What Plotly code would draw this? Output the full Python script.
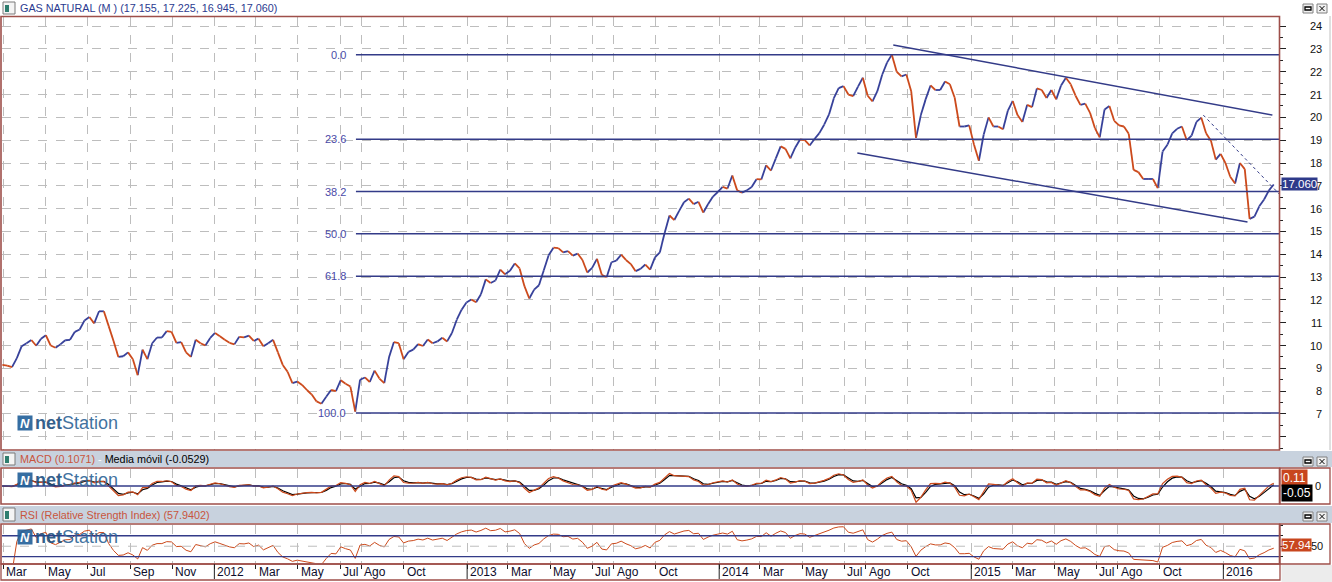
import numpy as np
import pandas as pd
import plotly.graph_objects as go

# ---------------- data ----------------
first_week = "2011-02-28"
close = [
    9.15, 9.12, 9.05, 9.45, 9.97, 10.10, 10.24, 9.99, 10.30, 10.45,
    10.00, 9.90, 10.05, 10.23, 10.25, 10.60, 10.70, 11.10, 11.25, 10.97,
    11.50, 11.50, 10.85, 10.20, 9.50, 9.53, 9.70, 9.40, 8.70, 9.82,
    9.40, 10.10, 10.35, 10.35, 10.63, 10.60, 10.12, 10.15, 9.70, 9.50,
    10.25, 10.10, 10.00, 10.33, 10.55, 10.41, 10.25, 10.12, 10.05, 10.38,
    10.36, 10.43, 10.20, 10.30, 9.97, 10.10, 10.25, 9.70, 9.15, 8.85,
    8.35, 8.42, 8.27, 8.05, 7.85, 7.55, 7.45, 7.75, 8.05, 8.00,
    8.48, 8.32, 8.20, 7.10, 8.50, 8.60, 8.40, 8.90, 8.55, 8.35,
    9.50, 10.15, 10.10, 9.40, 9.72, 9.82, 10.06, 9.98, 10.26, 10.10,
    10.18, 10.34, 10.18, 10.55, 11.13, 11.57, 11.89, 12.02, 11.90, 12.25,
    12.90, 12.74, 12.85, 13.33, 13.12, 13.28, 13.60, 13.38, 12.60, 12.06,
    12.45, 12.64, 13.30, 13.96, 14.29, 14.27, 14.08, 14.14, 13.94, 14.03,
    13.75, 13.20, 13.40, 13.80, 13.10, 12.99, 13.65, 13.72, 13.98, 13.75,
    13.57, 13.26, 13.36, 13.55, 13.33, 13.86, 14.08, 14.93, 15.70, 15.50,
    15.90, 16.28, 16.44, 16.20, 16.30, 15.83, 16.20, 16.53, 16.73, 16.95,
    16.88, 17.45, 16.80, 16.70, 16.80, 16.95, 17.29, 17.28, 17.90, 17.67,
    18.20, 18.73, 18.62, 18.20, 18.67, 19.03, 19.00, 18.77, 19.05, 19.31,
    19.68, 20.13, 20.84, 21.28, 21.37, 21.00, 20.93, 21.35, 21.74, 20.95,
    20.70, 21.15, 21.87, 22.40, 22.75, 22.00, 21.80, 21.88, 21.15, 19.10,
    20.10, 20.80, 21.40, 21.20, 21.20, 21.57, 21.45, 20.86, 19.60, 19.60,
    19.65, 18.80, 18.10, 19.25, 20.00, 19.60, 19.60, 19.48, 20.30, 20.72,
    20.10, 19.80, 20.55, 20.45, 21.27, 21.20, 20.85, 21.20, 20.79, 21.40,
    21.74, 21.45, 20.95, 20.55, 20.60, 20.20, 19.53, 19.12, 20.35, 20.50,
    19.85, 19.65, 19.60, 19.28, 17.70, 17.60, 17.30, 17.30, 17.30, 16.90,
    18.50, 18.80, 19.30, 19.50, 19.60, 19.00, 19.20, 19.80, 19.99, 19.30,
    18.98, 18.15, 18.40, 18.00, 17.40, 17.10, 18.00, 17.73, 15.55, 15.65,
    16.10, 16.40, 16.80, 17.06,
]

month_ticks = [
    "2011-03-01", "2011-05-01", "2011-07-01", "2011-09-01", "2011-11-01",
    "2012-01-01", "2012-03-01", "2012-05-01", "2012-07-01", "2012-08-01", "2012-10-01",
    "2013-01-01", "2013-03-01", "2013-05-01", "2013-07-01", "2013-08-01", "2013-10-01",
    "2014-01-01", "2014-03-01", "2014-05-01", "2014-07-01", "2014-08-01", "2014-10-01",
    "2015-01-01", "2015-03-01", "2015-05-01", "2015-07-01", "2015-08-01", "2015-10-01",
    "2016-01-01",
]
month_labels = [
    "Mar", "May", "Jul", "Sep", "Nov",
    "2012", "Mar", "May", "Jul", "Ago", "Oct",
    "2013", "Mar", "May", "Jul", "Ago", "Oct",
    "2014", "Mar", "May", "Jul", "Ago", "Oct",
    "2015", "Mar", "May", "Jul", "Ago", "Oct",
    "2016",
]
year_ticks = ["2012-01-01", "2013-01-01", "2014-01-01", "2015-01-01", "2016-01-01"]
x_start, x_end = "2011-02-27 12:00", "2016-03-21 14:00"

price_ticks = list(range(6, 25))
price_labels = [""] + [str(v) for v in range(7, 25)]
price_range = [5.42, 24.40]

fib_start = "2012-07-24"
fib_low, fib_high = 7.04, 22.75
fib_levels = [0.0, 23.6, 38.2, 50.0, 61.8, 100.0]

upper_channel_x = ["2014-09-10", "2016-03-12"]
upper_channel_y = [23.17, 20.10]
lower_channel_x = ["2014-07-20", "2016-02-05"]
lower_channel_y = [18.44, 15.41]
short_trend_x = ["2015-12-03", "2016-03-22"]
short_trend_y = [20.10, 16.64]

title_text = "GAS NATURAL (M ) (17.155, 17.225, 16.945, 17.060)"
last_price = "17.060"
macd_text, signal_text = "0.1071", "-0.0529"
macd_box, signal_box = "0.11", "-0.05"
rsi_text, rsi_box = "57.9402", "57.94"

# ---------------- styles ----------------
BLUE = "#37419a"
ORANGE = "#cc4a1c"
NAVY = "#333b88"
BROWN = "#9e4f4a"
GRID = "#bdbdbd"
HEADER = "#c8d2de"
FONT = "Liberation Sans, Arial, sans-serif"

W, H = 1332, 582
L, R, T, B = 2, 53, 17, 19
PW, PH = W - L - R, H - T - B


def px(x):
    return (x - L) / PW


def py(y):
    return (H - B - y) / PH


dates = pd.date_range(first_week, periods=len(close), freq="7D")
s = pd.Series(close, index=dates)


# indicators (daily parameters translated to weekly samples)
def wk_alpha(n):
    return 1 - (1 - 2 / (n + 1)) ** 5


macd = s.ewm(alpha=wk_alpha(12), adjust=False).mean() - s.ewm(alpha=wk_alpha(26), adjust=False).mean()
signal = macd.ewm(alpha=wk_alpha(9), adjust=False).mean()
delta = s.diff()
a_rsi = 1 / 9
gain = delta.clip(lower=0).ewm(alpha=a_rsi, adjust=False).mean()
loss = (-delta.clip(upper=0)).ewm(alpha=a_rsi, adjust=False).mean()
rsi = 100 - 100 / (1 + gain / loss)

# price path split into rising / falling pieces
up_x, up_y, dn_x, dn_y = [], [], [], []
for i in range(1, len(close)):
    if close[i] >= close[i - 1]:
        tx, ty = up_x, up_y
    else:
        tx, ty = dn_x, dn_y
    tx += [dates[i - 1], dates[i], None]
    ty += [close[i - 1], close[i], None]

fig = go.Figure()
fig.add_trace(go.Scatter(x=up_x, y=up_y, mode="lines", line=dict(color=BLUE, width=1.8),
                         xaxis="x", yaxis="y", hoverinfo="skip"))
fig.add_trace(go.Scatter(x=dn_x, y=dn_y, mode="lines", line=dict(color=ORANGE, width=1.8),
                         xaxis="x", yaxis="y", hoverinfo="skip"))
fig.add_trace(go.Scatter(x=dates, y=signal, mode="lines", line=dict(color="black", width=1.2),
                         xaxis="x2", yaxis="y2", hoverinfo="skip"))
fig.add_trace(go.Scatter(x=dates, y=macd, mode="lines", line=dict(color=ORANGE, width=1.2),
                         xaxis="x2", yaxis="y2", hoverinfo="skip"))
fig.add_trace(go.Scatter(x=dates, y=rsi, mode="lines", line=dict(color=ORANGE, width=1),
                         xaxis="x3", yaxis="y3", hoverinfo="skip"))

xcommon = dict(range=[x_start, x_end], type="date", tickmode="array", tickvals=month_ticks,
               showgrid=True, gridcolor=GRID, griddash="dash", gridwidth=1, zeroline=False,
               showline=False, showticklabels=False, ticks="", fixedrange=True)

shapes = []
annotations = []

# ---- fibonacci ----
for lv in fib_levels:
    val = fib_high - (fib_high - fib_low) * lv / 100.0
    shapes.append(dict(type="line", xref="x", yref="y", x0=fib_start, x1=x_end, y0=val, y1=val,
                       line=dict(color=NAVY, width=1.5)))
    annotations.append(dict(xref="x", yref="y", x=fib_start, y=val, xanchor="right", yanchor="middle",
                            xshift=-8, text=f"{lv:.1f}", showarrow=False,
                            font=dict(size=11, color="#4a4aa8", family=FONT)))

# ---- trend lines ----
shapes.append(dict(type="line", xref="x", yref="y", x0=upper_channel_x[0], x1=upper_channel_x[1],
                   y0=upper_channel_y[0], y1=upper_channel_y[1], line=dict(color=NAVY, width=1.5)))
shapes.append(dict(type="line", xref="x", yref="y", x0=lower_channel_x[0], x1=lower_channel_x[1],
                   y0=lower_channel_y[0], y1=lower_channel_y[1], line=dict(color=NAVY, width=1.5)))
shapes.append(dict(type="line", xref="x", yref="y", x0=short_trend_x[0], x1=short_trend_x[1],
                   y0=short_trend_y[0], y1=short_trend_y[1], line=dict(color=NAVY, width=1, dash="dot")))

# ---- indicator reference lines ----
shapes.append(dict(type="line", xref="x2 domain", yref="y2", x0=0, x1=1, y0=0, y1=0,
                   line=dict(color=NAVY, width=1.3)))
for lv in (30, 70):
    shapes.append(dict(type="line", xref="x3 domain", yref="y3", x0=0, x1=1, y0=lv, y1=lv,
                       line=dict(color=NAVY, width=1.3)))
shapes.append(dict(type="line", xref="x3 domain", yref="y3", x0=0, x1=1, y0=50, y1=50,
                   line=dict(color=GRID, width=1, dash="dash")))


# ---- headers ----
def add_header(ytop, ybot, text, fill, btn_top, btn_bot):
    if fill:
        shapes.append(dict(type="rect", xref="paper", yref="paper", x0=px(0), x1=px(W), y0=py(ybot), y1=py(ytop),
                           fillcolor=fill, line=dict(width=0), layer="below"))
    ic_t, ic_b = ytop + 2, ybot - 2
    shapes.append(dict(type="rect", xref="paper", yref="paper", x0=px(3), x1=px(15), y0=py(ic_b), y1=py(ic_t),
                       fillcolor="#f4f4f4", line=dict(color="#7a7a7a", width=1)))
    shapes.append(dict(type="rect", xref="paper", yref="paper", x0=px(5), x1=px(9), y0=py(ic_b - 2), y1=py(ic_t + 3),
                       fillcolor="#2e7d6e", line=dict(width=0)))
    annotations.append(dict(xref="paper", yref="paper", x=px(18), y=py((ytop + ybot) / 2), xanchor="left",
                            yanchor="middle", text=text, showarrow=False, font=dict(size=10.8, family=FONT)))
    for x0, x1 in ((1303, 1313), (1317, 1327)):
        shapes.append(dict(type="rect", xref="paper", yref="paper", x0=px(x0), x1=px(x1),
                           y0=py(btn_bot), y1=py(btn_top), fillcolor="#f0f0f0", line=dict(color="#808080", width=1)))
    shapes.append(dict(type="rect", xref="paper", yref="paper", x0=px(1305), x1=px(1311),
                       y0=py(btn_bot - 3), y1=py(btn_top + 3), fillcolor="white", line=dict(color="black", width=1.3)))
    shapes.append(dict(type="line", xref="paper", yref="paper", x0=px(1319.5), x1=px(1324.5),
                       y0=py(btn_top + 2), y1=py(btn_bot - 2), line=dict(color="black", width=1)))
    shapes.append(dict(type="line", xref="paper", yref="paper", x0=px(1319.5), x1=px(1324.5),
                       y0=py(btn_bot - 2), y1=py(btn_top + 2), line=dict(color="black", width=1)))


add_header(0, 16, f"<span style='color:#2b3a90'>{title_text}</span>", None, 4, 13)
add_header(451, 467,
           f"<span style='color:#c8553d'>MACD ({macd_text})</span><span style='color:#ffffff'> - </span>"
           f"<span style='color:#000000'>Media móvil ({signal_text})</span>", HEADER, 457, 466)
add_header(506, 523, f"<span style='color:#c8553d'>RSI (Relative Strength Index) ({rsi_text})</span>",
           HEADER, 512, 521)

# ---- borders ----
for (y0, y1) in ((16.5, 450), (468, 504), (524, 564)):
    shapes.append(dict(type="rect", xref="paper", yref="paper", x0=px(1), x1=px(1279.5), y0=py(y1), y1=py(y0),
                       line=dict(color=BROWN, width=1.6)))
for (y0, y1) in ((468, 504), (524, 564)):
    shapes.append(dict(type="rect", xref="paper", yref="paper", x0=px(1280), x1=px(1330), y0=py(y1), y1=py(y0),
                       line=dict(color=BROWN, width=1.3)))
shapes.append(dict(type="line", xref="paper", yref="paper", x0=px(1330), x1=px(1330), y0=py(450), y1=py(16),
                   line=dict(color="#c0c0c0", width=1)))
shapes.append(dict(type="rect", xref="paper", yref="paper", x0=px(1), x1=px(1280), y0=py(580), y1=py(564),
                   line=dict(color=BROWN, width=1.3)))
shapes.append(dict(type="rect", xref="paper", yref="paper", x0=px(1281.5), x1=px(W), y0=py(H), y1=py(565),
                   fillcolor="#ececec", line=dict(width=0)))
for yd in year_ticks:
    shapes.append(dict(type="line", xref="x3", yref="paper", x0=yd, x1=yd, y0=py(564), y1=py(579),
                       line=dict(color="#222222", width=1)))

# ---- bottom labels ----
for d, t in zip(month_ticks, month_labels):
    annotations.append(dict(xref="x3", yref="paper", x=d, y=py(572), xanchor="left", yanchor="middle", xshift=1,
                            text=t, showarrow=False, font=dict(size=12, color="#0d0d2b", family=FONT)))

# ---- right axis labels ----
for v, t in zip(price_ticks, price_labels):
    if t:
        annotations.append(dict(xref="paper", yref="y", x=px(1324), y=v, xanchor="right", yanchor="middle",
                                text=t, showarrow=False, font=dict(size=11, color="#111111", family=FONT)))
annotations.append(dict(xref="paper", yref="y2", x=px(1323), y=0, xanchor="right", yanchor="middle",
                        text="0", showarrow=False, font=dict(size=11, color="#111111", family=FONT)))
annotations.append(dict(xref="paper", yref="y3", x=px(1325), y=50, xanchor="right", yanchor="middle",
                        text="50", showarrow=False, font=dict(size=11, color="#111111", family=FONT)))

# ---- value boxes ----
annotations.append(dict(xref="paper", yref="y", x=px(1281), y=float(last_price), xanchor="left", yanchor="middle",
                        text=last_price, showarrow=False, bgcolor="#2e3a8a", borderpad=0,
                        font=dict(size=11.5, color="white", family=FONT)))
annotations.append(dict(xref="paper", yref="paper", x=px(1281), y=py(478), xanchor="left", yanchor="middle",
                        text=macd_box, showarrow=False, bgcolor="#c8461e", borderpad=1,
                        font=dict(size=12, color="white", family=FONT)))
annotations.append(dict(xref="paper", yref="paper", x=px(1281), y=py(492.5), xanchor="left", yanchor="middle",
                        text=signal_box, showarrow=False, bgcolor="#000000", borderpad=1,
                        font=dict(size=12, color="white", family=FONT)))
annotations.append(dict(xref="paper", yref="paper", x=px(1281), y=py(545), xanchor="left", yanchor="middle",
                        text=rsi_box, showarrow=False, bgcolor="#c8461e", borderpad=0,
                        font=dict(size=11.5, color="white", family=FONT)))


# ---- watermark logos ----
def add_logo(yc):
    annotations.append(dict(xref="paper", yref="paper", x=px(17), y=py(yc), xanchor="left", yanchor="middle",
                            text="<b><i>N</i></b>", showarrow=False, bgcolor="#215f98", width=14, height=14,
                            borderpad=0, font=dict(size=13, color="white", family=FONT), opacity=0.9))
    annotations.append(dict(xref="paper", yref="paper", x=px(33), y=py(yc), xanchor="left", yanchor="middle",
                            text="<b><span style='color:#1d4f80'>net</span></b><span style='color:#2d6496'>Station</span>",
                            showarrow=False, font=dict(size=18, family=FONT), opacity=0.9))


add_logo(422.5)
add_logo(479.5)
add_logo(536.5)

fig.update_layout(
    width=W, height=H,
    margin=dict(l=L, r=R, t=T, b=B, pad=0),
    paper_bgcolor="white", plot_bgcolor="white",
    showlegend=False, hovermode=False,
    font=dict(family=FONT),
    xaxis={**xcommon, "anchor": "y"},
    xaxis2={**xcommon, "anchor": "y2"},
    xaxis3={**xcommon, "anchor": "y3", "ticks": "outside", "ticklen": 5, "tickcolor": "#222222", "tickwidth": 1},
    yaxis=dict(domain=[py(450), 1], range=price_range, side="right", anchor="x", tickmode="array",
               tickvals=price_ticks, ticktext=price_labels, showticklabels=False, ticks="outside", ticklen=6,
               tickcolor="#222222", showgrid=True, gridcolor=GRID, griddash="dash", zeroline=False,
               minor=dict(tickvals=[v + 0.5 for v in range(5, 25)], ticks="outside", ticklen=3,
                          tickcolor="#222222", showgrid=False),
               fixedrange=True),
    yaxis2=dict(domain=[py(503), py(469)], range=[-0.75, 0.75], side="right", anchor="x2", showgrid=False,
                showticklabels=False, zeroline=False, ticks="", fixedrange=True),
    yaxis3=dict(domain=[0, py(525)], range=[18, 90.5], side="right", anchor="x3", showgrid=False,
                tickmode="array", tickvals=[30, 50, 70, 90], showticklabels=False, ticks="outside", ticklen=3,
                tickcolor="#222222", zeroline=False, fixedrange=True),
    shapes=shapes,
    annotations=annotations,
)

fig.write_html("out.html", config={"displayModeBar": False},
               post_script="document.body.style.margin='0px';document.body.style.overflow='hidden';")
